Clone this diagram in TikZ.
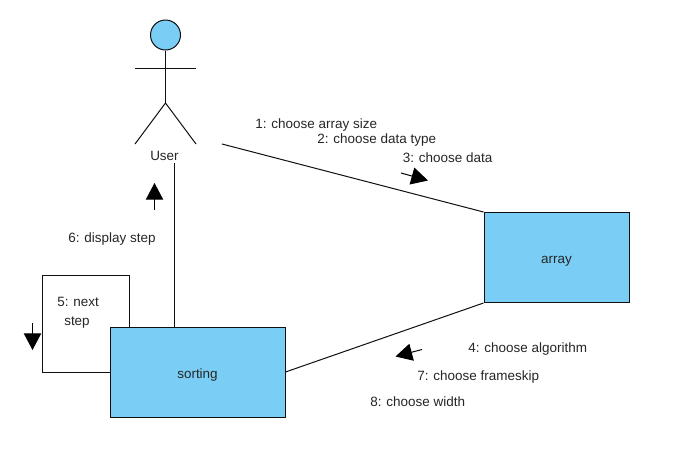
\documentclass[tikz,border=0pt]{standalone}
\usepackage{fontspec}
\setmainfont{Liberation Sans}
\usetikzlibrary{arrows.meta}
\definecolor{boxblue}{HTML}{7ACEF5}
\definecolor{inkline}{HTML}{101010}
\tikzset{
  box/.style={draw=inkline,fill=boxblue,line width=0.75pt,inner sep=0pt,text height=11pt,text depth=2pt,font=\fontsize{10.1}{12}\selectfont,text=black!85},
  link/.style={draw=inkline,line width=0.75pt},
  lbl/.style={inner sep=0pt,anchor=base west,font=\fontsize{10.1}{12}\selectfont,text=black!85},
  dirarrow/.style={draw=black,line width=0.75pt,-{Triangle[length=12.5pt,width=13pt]}},
}
\begin{document}
\begin{tikzpicture}[x=0.75pt,y=-0.75pt]
\useasboundingbox (0,0) rectangle (680,454);
\fill[white] (0,0) rectangle (680,454);
% actor
\node[circle,draw=inkline,fill=boxblue,line width=0.75pt,minimum size=22.5pt,inner sep=0pt] (head) at (165.5,35) {};
\coordinate (hip) at (165.5,103);
\coordinate (armL) at (135,68.5);
\coordinate (armR) at (196,68.5);
\coordinate (footL) at (135,144);
\coordinate (footR) at (196,144);
\draw[link] (head.south) -- (hip);
\draw[link] (armL) -- (armR);
\draw[link] (footL) -- (hip) -- (footR);
\node[lbl] (user) at (150,160) {User};
% boxes
\node[box,minimum width=108.75pt,minimum height=67.5pt] (array) at (556.5,257.5) {array};
\node[box,minimum width=131.25pt,minimum height=67.5pt] (sorting) at (197.5,372) {sorting};
% connectors
\coordinate (userR) at (222,144);
\coordinate (userB) at (174.5,163);
\draw[link] (userR) -- (array.north west);
\draw[link] (userB) -- (userB |- sorting.north);
\draw[link] (sorting.east) -- (array.south west);
\coordinate (loopA) at (129.5,275.5);
\coordinate (loopB) at (42.5,275.5);
\coordinate (loopC) at (42.5,372);
\draw[link] (loopA |- sorting.north) -- (loopA) -- (loopB) -- (loopC) -- (sorting.west);
% direction arrows
\coordinate (a6s) at (154.5,210); \coordinate (a6e) at (154.5,183);
\coordinate (a5s) at (32.5,323);  \coordinate (a5e) at (32.5,350);
\coordinate (a3s) at (401,173); \coordinate (a3e) at (428,180.5);
\coordinate (a4s) at (422,349.5); \coordinate (a4e) at (395.5,356.5);
\draw[dirarrow] (a6s) -- (a6e);
\draw[dirarrow] (a5s) -- (a5e);
\draw[dirarrow] (a3s) -- (a3e);
\draw[dirarrow] (a4s) -- (a4e);
% labels
\node[lbl] (l1) at (255,128) {1: choose array size};
\node[lbl] (l2) at (317,143) {2: choose data type};
\node[lbl] (l3) at (402.5,162) {3: choose data};
\node[lbl] (l4) at (468,352) {4: choose algorithm};
\node[lbl] (l7) at (417,380) {7: choose frameskip};
\node[lbl] (l8) at (370,406) {8: choose width};
\node[lbl] (l6) at (68,242) {6: display step};
\node[lbl] (l5a) at (57,306) {5: next};
\node[lbl] (l5b) at (64,325) {step};
\end{tikzpicture}
\end{document}
